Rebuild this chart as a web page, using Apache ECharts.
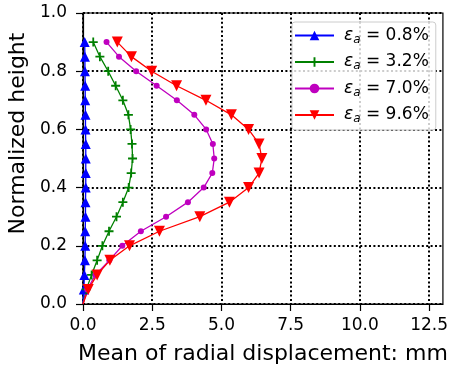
<!DOCTYPE html>
<html><head><meta charset="utf-8">
<script src="https://cdn.jsdelivr.net/npm/echarts@6/dist/echarts.min.js"></script>
<style>html,body{margin:0;padding:0;background:#fff}#c{width:451px;height:371px}</style>
</head><body><div id="c"></div>
<script>
const heights = [0,0.05,0.1,0.15,0.2,0.25,0.3,0.35,0.4,0.45,0.5,0.55,0.6,0.65,0.7,0.75,0.8,0.85,0.9];
const strain08 = [0,0.03,0.05,0.07,0.08,0.08,0.09,0.09,0.1,0.1,0.1,0.1,0.09,0.09,0.08,0.08,0.07,0.07,0.06];
const strain32 = [0,0.12,0.31,0.51,0.70,0.94,1.21,1.44,1.65,1.74,1.79,1.77,1.72,1.64,1.44,1.18,0.91,0.61,0.37];
const strain70 = [0,0.15,0.45,0.95,1.42,2.09,3.00,3.79,4.36,4.67,4.74,4.69,4.45,4.02,3.39,2.66,1.92,1.30,0.85];
const strain96 = [0,0.19,0.51,0.97,1.68,2.76,4.22,5.29,5.98,6.36,6.46,6.36,5.98,5.36,4.44,3.38,2.48,1.75,1.24];
const seriesLabels = ['0.8%','3.2%','7.0%','9.6%'];
const xTicks = [0,2.5,5,7.5,10,12.5];
const yTicks = [0,0.2,0.4,0.6,0.8,1.0];

const FONT = 'DejaVu Sans';
const plus = 'path://M4,0H6V4H10V6H6V10H4V6H0V4H4Z';
function mk(name, vals, color, symbol, size, rot) {
  return {
    name, type: 'line', color,
    data: vals.map((v,i) => i===0 ? {value:[v,heights[i]], symbol:'none'} : [v,heights[i]]),
    symbol, symbolSize: size, symbolRotate: rot || 0,
    showAllSymbol: true,
    lineStyle: {width: 1.3, color},
    itemStyle: {color, opacity: 1},
    emphasis: {disabled: true},
    animation: false, z: 3, clip: true
  };
}
const chart = echarts.init(document.getElementById('c'), null, {renderer:'canvas'});
const axisText = {fontFamily: FONT, fontSize: 17, color: '#000'};
chart.setOption({
  animation: false,
  grid: {left: 83, top: 13, right: 5, bottom: 67, show: true, borderColor: '#000', borderWidth: 1.2, backgroundColor: 'transparent'},
  xAxis: {
    type: 'value', min: 0, max: 13.0, interval: 2.5,
    name: 'Mean of radial displacement: mm', nameLocation: 'middle', nameGap: 39,
    nameTextStyle: {fontFamily: FONT, fontSize: 22, color: '#000'},
    axisLine: {show: true, lineStyle: {color: '#000', width: 1.2}},
    axisTick: {show: true, length: 7, lineStyle: {color: '#000', width: 1.2}, customValues: xTicks},
    axisLabel: Object.assign({margin: 13, customValues: xTicks, formatter: v => v.toFixed(1)}, axisText),
    splitLine: {show: true, lineStyle: {color: '#000', width: 2, type: [2, 2.4]}}
  },
  yAxis: {
    type: 'value', min: 0, max: 1.0, interval: 0.2,
    axisLine: {show: true, lineStyle: {color: '#000', width: 1.2}},
    axisTick: {show: true, length: 7, lineStyle: {color: '#000', width: 1.2}, customValues: yTicks},
    axisLabel: Object.assign({margin: 16, customValues: yTicks, formatter: v => v.toFixed(1)}, axisText),
    splitLine: {show: true, lineStyle: {color: '#000', width: 2, type: [2, 2.4]}}
  },
  graphic: [{
    type: 'text', x: 18, y: 133.5, rotation: Math.PI / 2,
    style: {text: 'Normalized height', fontFamily: FONT, fontSize: 22, fill: '#000', align: 'center', verticalAlign: 'middle'}
  }],
  legend: {
    show: true, orient: 'vertical', left: 292, top: 22,
    itemWidth: 39, itemHeight: 12, itemGap: 8,
    padding: [5, 7, 5, 2],
    backgroundColor: 'rgba(255,255,255,0.8)', borderColor: '#cccccc', borderWidth: 1, borderRadius: 3,
    data: ['s08','s32','s70','s96'],
    formatter: function(n){ const i = ['s08','s32','s70','s96'].indexOf(n); return '{e|ε}{s|a}{t| = ' + seriesLabels[i] + '}'; },
    textStyle: {fontFamily: FONT, fontSize: 17, color: '#000', padding: [0,0,0,5],
      rich: {
        e: {fontFamily: FONT, fontSize: 17, fontStyle: 'italic', color: '#000'},
        s: {fontFamily: FONT, fontSize: 12, fontStyle: 'italic', color: '#000', padding: [8,0,0,0]},
        t: {fontFamily: FONT, fontSize: 17, color: '#000'}
      }}
  },
  series: [
    mk('s08', strain08, '#0000ff', 'triangle', 10),
    mk('s32', strain32, '#008000', plus, 9),
    mk('s70', strain70, '#bf00bf', 'circle', 6),
    mk('s96', strain96, '#ff0000', 'triangle', 11, 180)
  ]
});
</script></body></html>
